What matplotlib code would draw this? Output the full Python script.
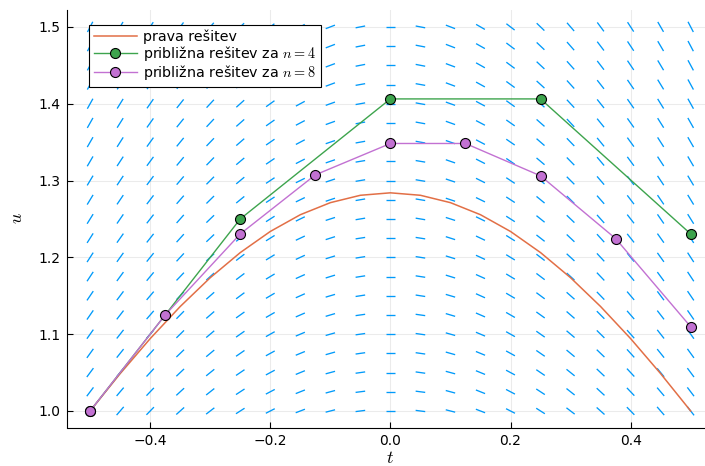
import numpy as np
import matplotlib
matplotlib.use("Agg")
import matplotlib.pyplot as plt
from matplotlib.collections import LineCollection

plt.rcParams['mathtext.fontset'] = 'cm'
plt.rcParams['font.family'] = ['DejaVu Sans']

# ---------------- data ----------------
# direction field grid
field_t = [-0.5, -0.45, -0.4, -0.35, -0.3, -0.25, -0.2, -0.15, -0.1, -0.05, 0.0,
           0.05, 0.1, 0.15, 0.2, 0.25, 0.3, 0.35, 0.4, 0.45, 0.5]
field_u = [1.0, 1.025, 1.05, 1.075, 1.1, 1.125, 1.15, 1.175, 1.2, 1.225, 1.25,
           1.275, 1.3, 1.325, 1.35, 1.375, 1.4, 1.425, 1.45, 1.475, 1.5]
# slope at each grid point (rows: field_u, columns: field_t)
field_slope = [
    [1.00, 0.90, 0.80, 0.70, 0.60, 0.50, 0.40, 0.30, 0.20, 0.10, 0.0, -0.10, -0.20, -0.30, -0.40, -0.50, -0.60, -0.70, -0.80, -0.90, -1.00],
    [1.03, 0.92, 0.82, 0.72, 0.62, 0.51, 0.41, 0.31, 0.21, 0.10, 0.0, -0.10, -0.21, -0.31, -0.41, -0.51, -0.62, -0.72, -0.82, -0.92, -1.03],
    [1.05, 0.95, 0.84, 0.74, 0.63, 0.53, 0.42, 0.32, 0.21, 0.11, 0.0, -0.11, -0.21, -0.32, -0.42, -0.53, -0.63, -0.74, -0.84, -0.95, -1.05],
    [1.08, 0.97, 0.86, 0.75, 0.65, 0.54, 0.43, 0.32, 0.22, 0.11, 0.0, -0.11, -0.22, -0.32, -0.43, -0.54, -0.65, -0.75, -0.86, -0.97, -1.08],
    [1.10, 0.99, 0.88, 0.77, 0.66, 0.55, 0.44, 0.33, 0.22, 0.11, 0.0, -0.11, -0.22, -0.33, -0.44, -0.55, -0.66, -0.77, -0.88, -0.99, -1.10],
    [1.13, 1.01, 0.90, 0.79, 0.68, 0.56, 0.45, 0.34, 0.23, 0.11, 0.0, -0.11, -0.23, -0.34, -0.45, -0.56, -0.68, -0.79, -0.90, -1.01, -1.13],
    [1.15, 1.04, 0.92, 0.81, 0.69, 0.58, 0.46, 0.35, 0.23, 0.12, 0.0, -0.12, -0.23, -0.35, -0.46, -0.58, -0.69, -0.81, -0.92, -1.04, -1.15],
    [1.18, 1.06, 0.94, 0.82, 0.71, 0.59, 0.47, 0.35, 0.24, 0.12, 0.0, -0.12, -0.24, -0.35, -0.47, -0.59, -0.71, -0.82, -0.94, -1.06, -1.18],
    [1.20, 1.08, 0.96, 0.84, 0.72, 0.60, 0.48, 0.36, 0.24, 0.12, 0.0, -0.12, -0.24, -0.36, -0.48, -0.60, -0.72, -0.84, -0.96, -1.08, -1.20],
    [1.23, 1.10, 0.98, 0.86, 0.74, 0.61, 0.49, 0.37, 0.25, 0.12, 0.0, -0.12, -0.25, -0.37, -0.49, -0.61, -0.74, -0.86, -0.98, -1.10, -1.23],
    [1.25, 1.13, 1.00, 0.88, 0.75, 0.63, 0.50, 0.38, 0.25, 0.13, 0.0, -0.13, -0.25, -0.38, -0.50, -0.63, -0.75, -0.88, -1.00, -1.13, -1.25],
    [1.28, 1.15, 1.02, 0.89, 0.77, 0.64, 0.51, 0.38, 0.26, 0.13, 0.0, -0.13, -0.26, -0.38, -0.51, -0.64, -0.77, -0.89, -1.02, -1.15, -1.28],
    [1.30, 1.17, 1.04, 0.91, 0.78, 0.65, 0.52, 0.39, 0.26, 0.13, 0.0, -0.13, -0.26, -0.39, -0.52, -0.65, -0.78, -0.91, -1.04, -1.17, -1.30],
    [1.33, 1.19, 1.06, 0.93, 0.80, 0.66, 0.53, 0.40, 0.27, 0.13, 0.0, -0.13, -0.27, -0.40, -0.53, -0.66, -0.80, -0.93, -1.06, -1.19, -1.33],
    [1.35, 1.22, 1.08, 0.95, 0.81, 0.68, 0.54, 0.41, 0.27, 0.14, 0.0, -0.14, -0.27, -0.41, -0.54, -0.68, -0.81, -0.95, -1.08, -1.22, -1.35],
    [1.38, 1.24, 1.10, 0.96, 0.83, 0.69, 0.55, 0.41, 0.28, 0.14, 0.0, -0.14, -0.28, -0.41, -0.55, -0.69, -0.83, -0.96, -1.10, -1.24, -1.38],
    [1.40, 1.26, 1.12, 0.98, 0.84, 0.70, 0.56, 0.42, 0.28, 0.14, 0.0, -0.14, -0.28, -0.42, -0.56, -0.70, -0.84, -0.98, -1.12, -1.26, -1.40],
    [1.43, 1.28, 1.14, 1.00, 0.86, 0.71, 0.57, 0.43, 0.29, 0.14, 0.0, -0.14, -0.29, -0.43, -0.57, -0.71, -0.86, -1.00, -1.14, -1.28, -1.43],
    [1.45, 1.31, 1.16, 1.02, 0.87, 0.73, 0.58, 0.44, 0.29, 0.15, 0.0, -0.15, -0.29, -0.44, -0.58, -0.73, -0.87, -1.02, -1.16, -1.31, -1.45],
    [1.48, 1.33, 1.18, 1.03, 0.89, 0.74, 0.59, 0.44, 0.30, 0.15, 0.0, -0.15, -0.30, -0.44, -0.59, -0.74, -0.89, -1.03, -1.18, -1.33, -1.48],
    [1.50, 1.35, 1.20, 1.05, 0.90, 0.75, 0.60, 0.45, 0.30, 0.15, 0.0, -0.15, -0.30, -0.45, -0.60, -0.75, -0.90, -1.05, -1.20, -1.35, -1.50],
]

# exact solution
exact_t = [-0.5, -0.45, -0.4, -0.35, -0.3, -0.25, -0.2, -0.15, -0.1, -0.05, 0.0,
           0.05, 0.1, 0.15, 0.2, 0.25, 0.3, 0.35, 0.4, 0.45, 0.5]
exact_u = [1.0000, 1.0486, 1.0942, 1.1360, 1.1735, 1.2062, 1.2337, 1.2555, 1.2712, 1.2808, 1.2840,
           1.2808, 1.2712, 1.2555, 1.2337, 1.2062, 1.1735, 1.1360, 1.0942, 1.0486, 1.0000]

# approximations
n4_t = [-0.5, -0.25, 0.0, 0.25, 0.5]
n4_u = [1.0, 1.25, 1.40625, 1.40625, 1.23047]
n8_t = [-0.5, -0.375, -0.25, -0.125, 0.0, 0.125, 0.25, 0.375, 0.5]
n8_u = [1.0, 1.125, 1.23047, 1.30737, 1.34823, 1.34823, 1.30610, 1.22447, 1.10967]

labels = ['prava rešitev', r'približna rešitev za $n = 4$', r'približna rešitev za $n = 8$']
x_ticks = [-0.4, -0.2, 0.0, 0.2, 0.4]
y_ticks = [1.0, 1.1, 1.2, 1.3, 1.4, 1.5]

# ---------------- figure ----------------
W, H = 705, 466
fig = plt.figure(figsize=(W / 100, H / 100), dpi=100)
left, right, top, bottom = 67.3, 713.5, 10.0, 427.5
ax = fig.add_axes([left / W, 1 - bottom / H, (right - left) / W, (bottom - top) / H])

# direction field
L = 0.016
segs = []
T, U = np.meshgrid(field_t, field_u)
S = np.array(field_slope)
dt = L / np.sqrt(1 + S ** 2) / 2
du = S * dt
for tt, uu, a, b in zip(T.ravel(), U.ravel(), dt.ravel(), du.ravel()):
    segs.append([(tt - a, uu - b), (tt + a, uu + b)])
ax.add_collection(LineCollection(segs, colors='#009AFA', linewidths=0.95, zorder=2))

ax.plot(exact_t, exact_u, color='#E26F46', lw=1.1, label=labels[0], zorder=3)
ax.plot(n4_t, n4_u, color='#3DA44D', lw=1.0, marker='o', ms=7.2, mfc='#3DA44D',
        mec='black', mew=0.8, label=labels[1], zorder=4)
ax.plot(n8_t, n8_u, color='#C271D2', lw=1.0, marker='o', ms=7.2, mfc='#C271D2',
        mec='black', mew=0.8, label=labels[2], zorder=5)

ax.set_xlim(-0.538, 0.538)
ax.set_ylim(0.9785, 1.522)
ax.set_xticks(x_ticks)
ax.set_yticks(y_ticks)
ax.set_xticklabels([f'{v:.1f}'.replace('-', '\u2212') for v in x_ticks])
ax.set_yticklabels([f'{v:.1f}' for v in y_ticks])
ax.tick_params(direction='in', length=4, width=0.8, labelsize=10, pad=5)
ax.grid(True, color='black', alpha=0.08, lw=0.8)
ax.set_axisbelow(True)
for s in ['top', 'right']:
    ax.spines[s].set_visible(False)
for s in ['left', 'bottom']:
    ax.spines[s].set_linewidth(0.8)

fig.text(390.5 / W, 1 - 458 / H, r'$t$', fontsize=13, ha='center', va='center')
fig.text(17 / W, 1 - 218 / H, r'$u$', fontsize=13, ha='center', va='center', rotation=90)

leg = ax.legend(loc='upper left', bbox_to_anchor=(0.0336, 0.964), borderaxespad=0,
                fontsize=10.3, handlelength=3.0, handletextpad=0.45, labelspacing=0.0,
                borderpad=0.33, fancybox=False, framealpha=1, edgecolor='black')
leg.get_frame().set_linewidth(0.8)

fig.savefig('out.png', dpi=100)
